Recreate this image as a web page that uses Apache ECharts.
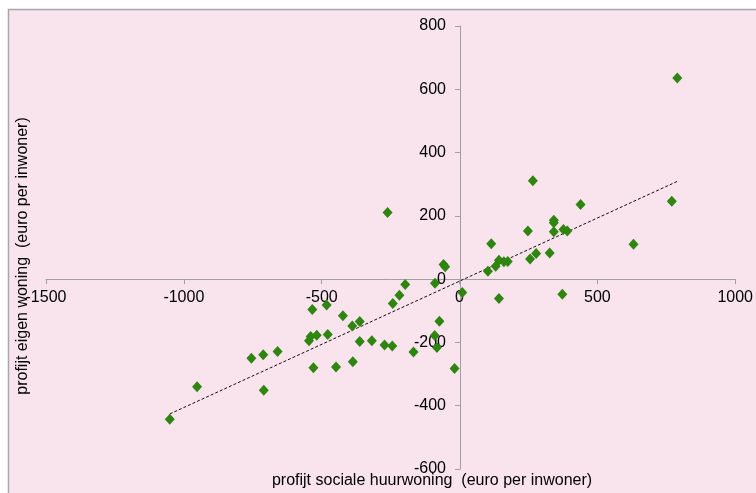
<!DOCTYPE html>
<html>
<head>
<meta charset="utf-8">
<script src="https://cdn.jsdelivr.net/npm/echarts@6/dist/echarts.min.js"></script>
<style>
html,body{margin:0;padding:0;background:#fff;}
#chart{width:756px;height:493px;}
</style>
</head>
<body>
<div id="chart"></div>
<script>
// profijt sociale huurwoning (x) and profijt eigen woning (y), euro per inwoner
const xValues = [790, 770, 266, 439, -261, 342, 342, 248, 342, 377, 391, 115, 631, 327, 278, 256,
  -58, -52, 143, 161, 175, 131, 103, -89, -197, 10, 143, 373, -218, -242, -534, -482, -423, -362,
  -389, -73, -546, -540, -518, -478, -362, -318, -272, -244, -90, -82, -167, -660, -712, -755,
  -387, -530, -448, -18, -710, -952, -1051];
const yValues = [636, 246, 311, 236, 211, 186, 178, 152, 150, 157, 152, 112, 110, 83, 81, 64,
  46, 39, 60, 55, 56, 41, 25, -13, -17, -42, -61, -48, -51, -77, -96, -82, -116, -134,
  -148, -133, -195, -181, -177, -175, -197, -195, -208, -211, -178, -216, -230, -229, -239, -250,
  -261, -280, -278, -282, -351, -340, -443];
// trend line end points
const trendX = [-1051, 790];
const trendY = [-426, 309];
const xTicks = [-1500, -1000, -500, 0, 500, 1000];
const yTicks = [-600, -400, -200, 0, 200, 400, 600, 800];
const xTitle = 'profijt sociale huurwoning  (euro per inwoner)';
const yTitle = 'profijt eigen woning  (euro per inwoner)';

const points = xValues.map((x, i) => [x, yValues[i]]);
const trend = trendX.map((x, i) => [x, trendY[i]]);
const font = '"Liberation Sans", Arial, sans-serif';
const axisGray = '#A0A0A0';

const W = 756, H = 493;
const G = {left: 46, right: 20, top: 26, bottom: 24};
const gw = W - G.left - G.right, gh = H - G.top - G.bottom;
const xMin = xTicks[0], xMax = xTicks[xTicks.length - 1];
const yMin = yTicks[0], yMax = yTicks[yTicks.length - 1];
// shift each axis so that it crosses the other one at zero
const xAxisOffset = -(gh * (0 - yMin) / (yMax - yMin));
const yAxisOffset = -(gw * (0 - xMin) / (xMax - xMin));

const chart = echarts.init(document.getElementById('chart'), null, {renderer: 'canvas'});
chart.setOption({
  backgroundColor: '#ffffff',
  animation: false,
  graphic: [
    {type: 'rect', z: -100, silent: true,
     shape: {x: 8.5, y: 9.5, width: 760, height: 500},
     style: {fill: '#F9E3EC', stroke: '#A8A8A8', lineWidth: 1.5}},
    {type: 'text', z: 10, x: 432, y: 481,
     style: {text: xTitle, font: '16px ' + font, fill: '#000', textAlign: 'center', textVerticalAlign: 'middle'}},
    {type: 'text', z: 10, x: 23, y: 256, rotation: Math.PI / 2,
     style: {text: yTitle, font: '16px ' + font, fill: '#000', textAlign: 'center', textVerticalAlign: 'middle'}}
  ],
  grid: {left: G.left, right: G.right, top: G.top, bottom: G.bottom, containLabel: false},
  xAxis: {
    type: 'value', min: xMin, max: xMax, interval: 500,
    position: 'bottom', offset: xAxisOffset,
    axisLine: {onZero: false, lineStyle: {color: axisGray, width: 1}},
    axisTick: {show: true, inside: false, length: 5, lineStyle: {color: axisGray}},
    splitLine: {show: false},
    axisLabel: {color: '#000', fontSize: 16, fontFamily: font, margin: 10,
      showMinLabel: true, showMaxLabel: true, formatter: v => String(v)}
  },
  yAxis: {
    type: 'value', min: yMin, max: yMax, interval: 200,
    position: 'left', offset: yAxisOffset,
    axisLine: {onZero: false, lineStyle: {color: axisGray, width: 1}},
    axisTick: {show: true, inside: false, length: 5, lineStyle: {color: axisGray}},
    splitLine: {show: false},
    axisLabel: {color: '#000', fontSize: 16, fontFamily: font, margin: 14,
      showMinLabel: true, showMaxLabel: true, formatter: v => String(v)}
  },
  series: [
    {type: 'line', data: trend, symbol: 'none', silent: true, z: 1,
     lineStyle: {color: '#111', width: 1, type: [3, 2]}},
    {type: 'scatter', data: points, symbol: 'diamond', symbolSize: [10, 11], z: 3,
     itemStyle: {color: '#2E8510', opacity: 1}}
  ]
});
</script>
</body>
</html>
